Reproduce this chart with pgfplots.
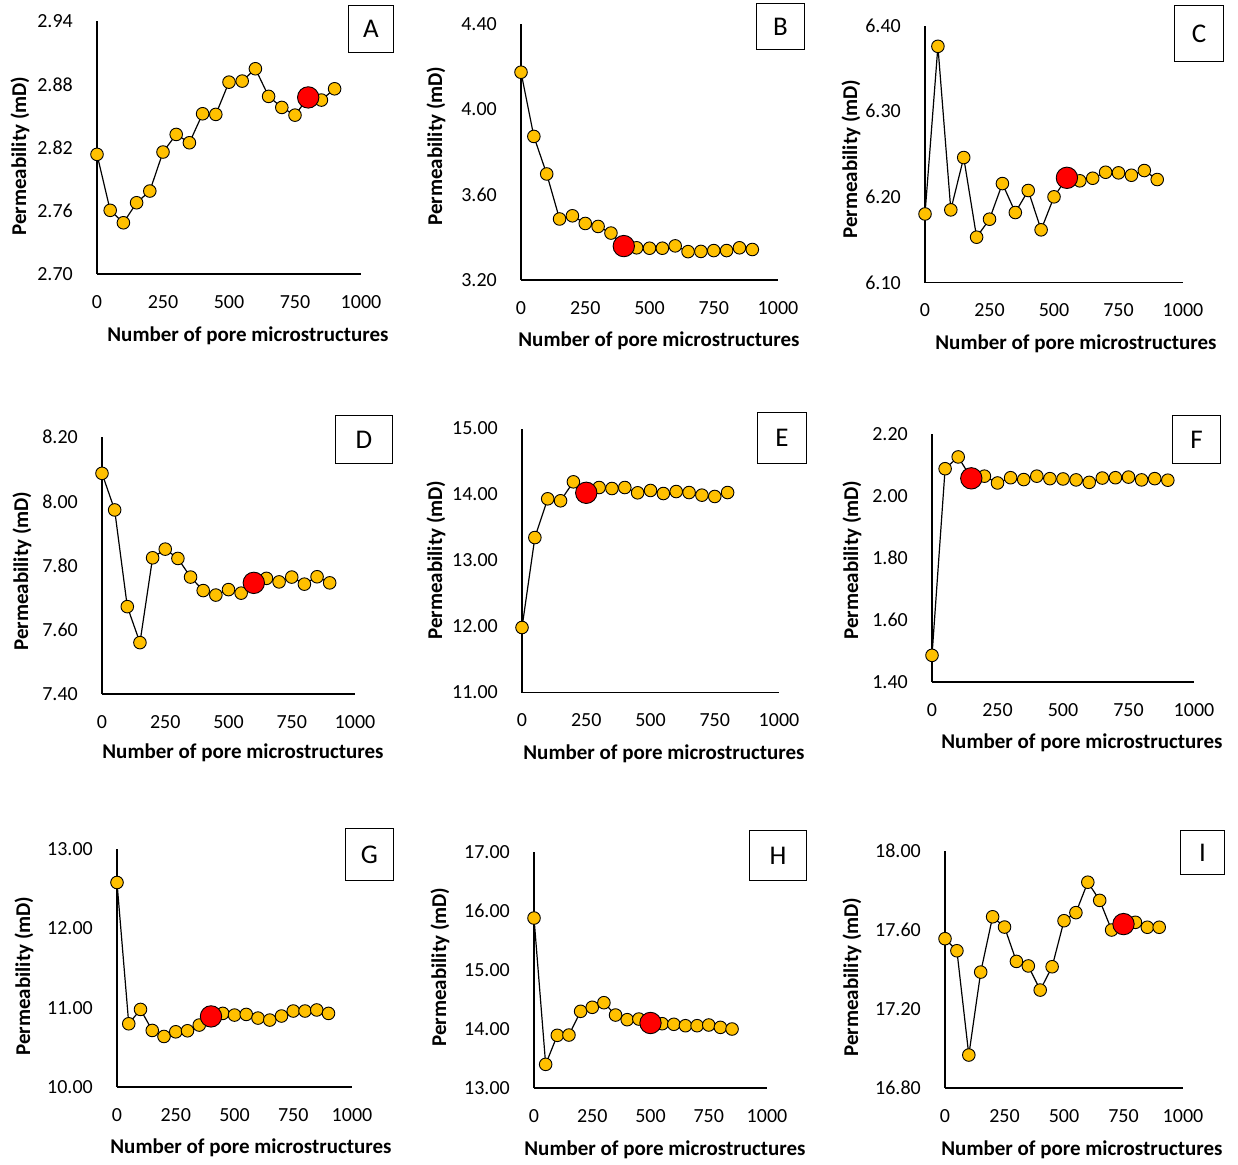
\documentclass[border=0pt]{standalone}
\usepackage{fontspec}
\setmainfont{Carlito}
\usepackage{pgfplots}
\pgfplotsset{compat=1.18}
\definecolor{gold}{HTML}{FFC000}
\pgfplotsset{
  panel/.style={scale only axis, anchor=south west, xmin=0, xmax=1000,
    axis x line=bottom, axis y line=left,
    axis line style={-, line width=1.3pt, black},
    major tick length=0pt, clip=false,
    xtick={0,250,500,750,1000}, xticklabels={0,250,500,750,1000},
    tick label style={font=\fontsize{20}{23}\selectfont, inner sep=0pt},
    xticklabel style={yshift=-21pt},
    yticklabel style={xshift=-24pt},
  },
  series/.style={black, line width=1.2pt, mark=*, mark size=6.3pt,
    mark options={fill=gold, draw=black, line width=0.9pt, solid}},
  hilite/.style={only marks, mark=*, mark size=10.7pt,
    mark options={fill=red, draw=black, line width=0.9pt}},
}
\newcommand{\ylab}[2]{\node[rotate=90, font=\fontsize{21}{24}\selectfont\bfseries] at (#1pt,-#2pt) {Permeability (mD)};}
\newcommand{\xlab}[2]{\node[font=\fontsize{21}{24}\selectfont\bfseries] at (#1pt,-#2pt) {Number of pore microstructures};}
\newcommand{\pbox}[5]{\node[draw=black, line width=0.9pt, minimum width=#3pt, minimum height=#4pt, inner sep=0pt, anchor=north west, font=\fontsize{27}{30}\selectfont] at (#1pt,-#2pt) {\raisebox{-2pt}{#5}};}
\begin{document}
\begin{tikzpicture}
\path (0,0) rectangle (1238pt,-1164pt);
% A
\begin{axis}[panel, at={(97pt,-274pt)}, width=264pt, height=253pt,
  ymin=2.70, ymax=2.94, ytick={2.70,2.76,2.82,2.88,2.94},
  yticklabels={2.70,2.76,2.82,2.88,2.94}]
\addplot[series] coordinates {(0,2.8135)(50,2.7604)(100,2.7486)(150,2.7676)(200,2.7787)(250,2.8157)(300,2.8324)(350,2.8245)(400,2.852)(450,2.8514)(500,2.882)(550,2.883)(600,2.8947)(650,2.8685)(700,2.858)(750,2.8507)(800,2.8675)(850,2.865)(900,2.8757)};
\addplot[hilite] coordinates {(800,2.8675)};
\end{axis}
% B
\begin{axis}[panel, at={(521pt,-280pt)}, width=257pt, height=256pt,
  ymin=3.20, ymax=4.40, ytick={3.20,3.60,4.00,4.40},
  yticklabels={3.20,3.60,4.00,4.40}]
\addplot[series] coordinates {(0,4.174)(50,3.873)(100,3.697)(150,3.486)(200,3.501)(250,3.465)(300,3.451)(350,3.420)(400,3.359)(450,3.351)(500,3.349)(550,3.349)(600,3.360)(650,3.333)(700,3.334)(750,3.338)(800,3.338)(850,3.351)(900,3.343)};
\addplot[hilite] coordinates {(400,3.359)};
\end{axis}
% C
\begin{axis}[panel, at={(925pt,-282.5pt)}, width=258pt, height=257pt,
  ymin=6.10, ymax=6.40, ytick={6.10,6.20,6.30,6.40},
  yticklabels={6.10,6.20,6.30,6.40}]
\addplot[series] coordinates {(0,6.180)(50,6.3757)(100,6.1848)(150,6.2459)(200,6.1529)(250,6.1739)(300,6.2155)(350,6.1817)(400,6.2074)(450,6.1615)(500,6.2000)(550,6.2222)(600,6.2187)(650,6.2217)(700,6.2287)(750,6.228)(800,6.2252)(850,6.2307)(900,6.2202)};
\addplot[hilite] coordinates {(550,6.2222)};
\end{axis}
% D
\begin{axis}[panel, at={(102pt,-694pt)}, width=253pt, height=257pt,
  ymin=7.40, ymax=8.20, ytick={7.40,7.60,7.80,8.00,8.20},
  yticklabels={7.40,7.60,7.80,8.00,8.20}]
\addplot[series] coordinates {(0,8.087)(50,7.973)(100,7.672)(150,7.560)(200,7.824)(250,7.851)(300,7.822)(350,7.764)(400,7.722)(450,7.708)(500,7.725)(550,7.714)(600,7.746)(650,7.760)(700,7.749)(750,7.764)(800,7.742)(850,7.765)(900,7.746)};
\addplot[hilite] coordinates {(600,7.746)};
\end{axis}
% E
\begin{axis}[panel, at={(522pt,-692.5pt)}, width=257pt, height=264pt,
  ymin=11, ymax=15, ytick={11,12,13,14,15},
  yticklabels={11.00,12.00,13.00,14.00,15.00}]
\addplot[series] coordinates {(0,11.985)(50,13.348)(100,13.935)(150,13.905)(200,14.192)(250,14.026)(300,14.106)(350,14.091)(400,14.106)(450,14.026)(500,14.061)(550,14.015)(600,14.045)(650,14.030)(700,13.99)(750,13.97)(800,14.030)};
\addplot[hilite] coordinates {(250,14.026)};
\end{axis}
% F
\begin{axis}[panel, at={(932pt,-682pt)}, width=262pt, height=248pt,
  ymin=1.40, ymax=2.20, ytick={1.40,1.60,1.80,2.00,2.20},
  yticklabels={1.40,1.60,1.80,2.00,2.20}]
\addplot[series] coordinates {(0,1.486)(50,2.088)(100,2.126)(150,2.057)(200,2.064)(250,2.042)(300,2.059)(350,2.053)(400,2.064)(450,2.056)(500,2.055)(550,2.052)(600,2.044)(650,2.058)(700,2.059)(750,2.061)(800,2.052)(850,2.056)(900,2.051)};
\addplot[hilite] coordinates {(150,2.057)};
\end{axis}
% G
\begin{axis}[panel, at={(117pt,-1087pt)}, width=235pt, height=238pt,
  ymin=10, ymax=13, ytick={10,11,12,13},
  yticklabels={10.00,11.00,12.00,13.00}]
\addplot[series] coordinates {(0,12.578)(50,10.797)(100,10.978)(150,10.713)(200,10.637)(250,10.696)(300,10.709)(350,10.781)(400,10.890)(450,10.928)(500,10.907)(550,10.915)(600,10.869)(650,10.844)(700,10.895)(750,10.958)(800,10.958)(850,10.971)(900,10.928)};
\addplot[hilite] coordinates {(400,10.890)};
\end{axis}
% H
\begin{axis}[panel, at={(534pt,-1088pt)}, width=233pt, height=236pt,
  ymin=13, ymax=17, ytick={13,14,15,16,17},
  yticklabels={13.00,14.00,15.00,16.00,17.00}]
\addplot[series] coordinates {(0,15.881)(50,13.401)(100,13.893)(150,13.898)(200,14.300)(250,14.368)(300,14.446)(350,14.237)(400,14.158)(450,14.169)(500,14.102)(550,14.090)(600,14.08)(650,14.056)(700,14.056)(750,14.068)(800,14.028)(850,14.0)};
\addplot[hilite] coordinates {(500,14.102)};
\end{axis}
% I
\begin{axis}[panel, at={(945pt,-1088pt)}, width=238pt, height=237pt,
  ymin=16.80, ymax=18.00, ytick={16.8,17.2,17.6,18.0},
  yticklabels={16.80,17.20,17.60,18.00}]
\addplot[series] coordinates {(0,17.556)(50,17.495)(100,16.967)(150,17.387)(200,17.667)(250,17.615)(300,17.441)(350,17.418)(400,17.296)(450,17.414)(500,17.647)(550,17.688)(600,17.842)(650,17.750)(700,17.600)(750,17.630)(800,17.639)(850,17.614)(900,17.614)};
\addplot[hilite] coordinates {(750,17.630)};
\end{axis}
% labels
\ylab{20}{156}\ylab{436}{146}\ylab{851}{159}
\ylab{22}{571}\ylab{436}{560}\ylab{852}{560}
\ylab{24}{976}\ylab{440}{967}\ylab{852}{977}
\xlab{248}{336}\xlab{659}{341}\xlab{1076}{344}
\xlab{243}{753}\xlab{664}{754}\xlab{1082}{743}
\xlab{251}{1148}\xlab{665}{1150}\xlab{1082}{1150}
\pbox{348}{5}{45}{47}{A}
\pbox{756}{3}{48}{46}{B}
\pbox{1174}{5}{49}{56}{C}
\pbox{335}{415}{57}{48}{D}
\pbox{757}{412}{49}{51}{E}
\pbox{1172}{415}{48}{48}{F}
\pbox{345}{828}{48}{52}{G}
\pbox{749}{830}{57}{50}{H}
\pbox{1180}{830}{44}{44}{I}
\end{tikzpicture}
\end{document}
